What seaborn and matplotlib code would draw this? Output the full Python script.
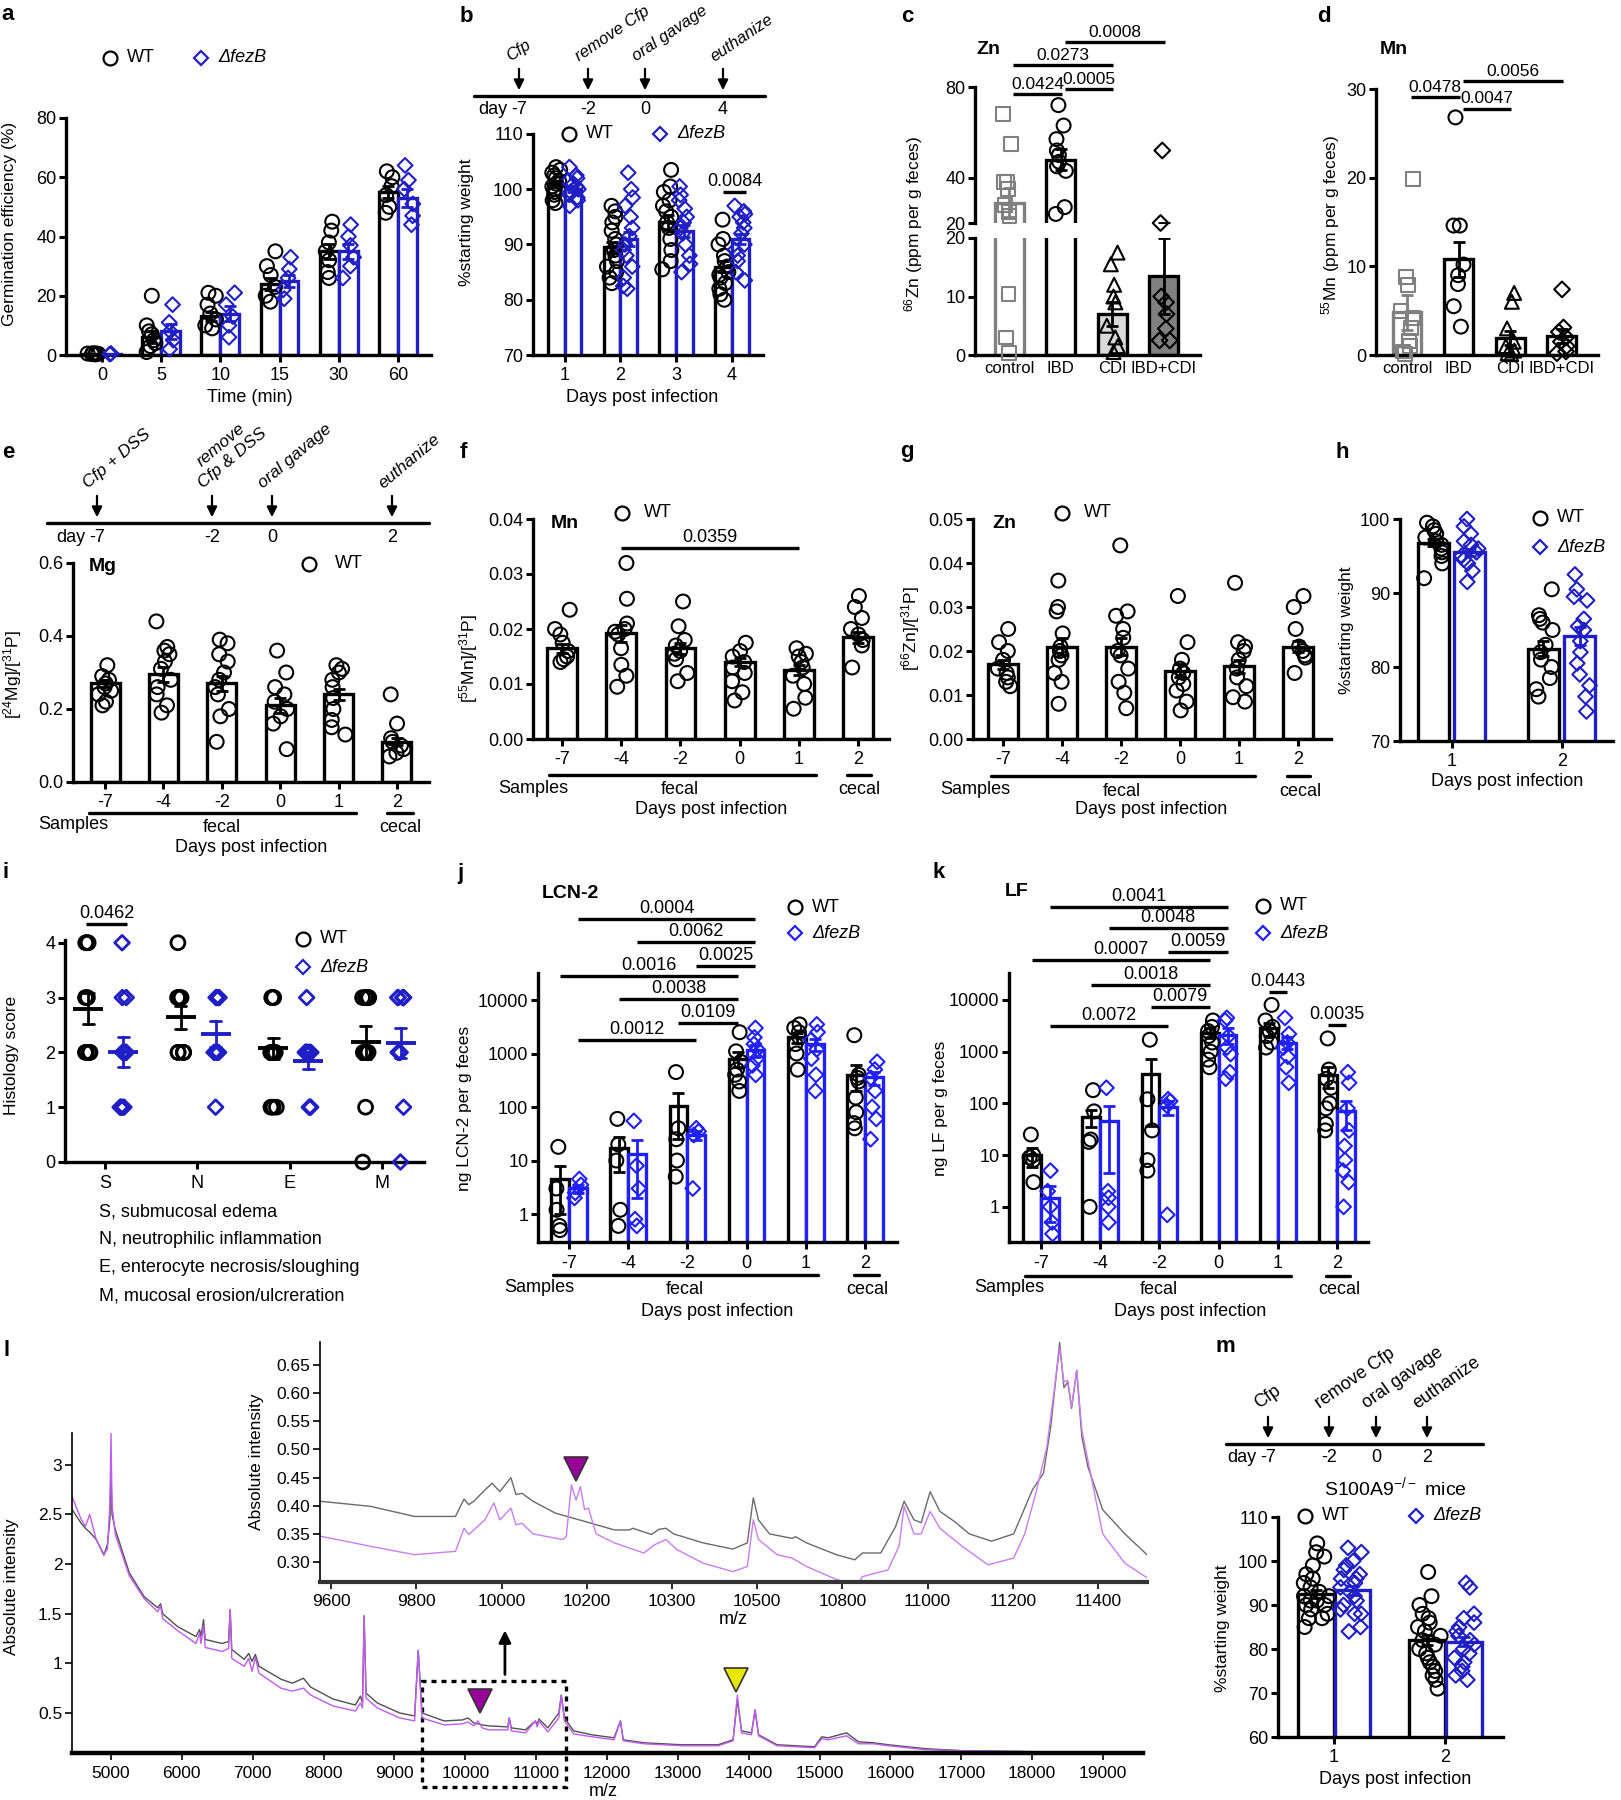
import numpy as np
import matplotlib
matplotlib.use("Agg")
import matplotlib.pyplot as plt
import seaborn as sns
from matplotlib.lines import Line2D
from matplotlib.patches import FancyArrowPatch, Rectangle

# ---------------- data ----------------
# a: germination
A_TIMES = ["0", "5", "10", "15", "30", "60"]
A_WT_MEAN = [0.3, 6, 13, 24, 35, 55]
A_WT_SEM = [0.2, 2.0, 1.5, 2.0, 2.5, 2.0]
A_FEZB_MEAN = [0.2, 8, 14, 25, 35, 53]
A_FEZB_SEM = [0.1, 2.5, 2.5, 2.0, 2.5, 3.0]
A_WT_PTS = [[0.5, 0.5, 0.3, 0.2, 0.4, 0.6], [20, 10, 8, 7, 5, 4, 3, 1], [21, 20, 17, 14, 12, 10, 9],
            [35, 30, 27, 23, 20, 18], [45, 42, 38, 35, 32, 28, 26], [62, 60, 57, 54, 50, 48]]
A_FEZB_PTS = [[0.5, 0.3], [17, 11, 8, 5, 2], [21, 17, 13, 10, 6], [33, 29, 26, 22, 19],
              [44, 40, 37, 33, 30, 26], [64, 59, 56, 51, 47, 44]]

# b: weight, Cfp model
B_DAYS = ["1", "2", "3", "4"]
B_WT_MEAN = [101, 89.5, 94, 86]
B_WT_SEM = [0.5, 1.0, 1.3, 1.0]
B_FEZB_MEAN = [100, 91, 92.5, 91]
B_FEZB_SEM = [0.5, 1.3, 1.1, 0.9]
B_WT_PTS = [[104, 103.5, 103, 102.5, 102, 101.5, 101, 100.5, 100, 99.5, 99, 98, 97.5],
            [97, 96, 95, 94, 92.5, 91, 90, 89, 88, 87, 86, 85, 84, 83],
            [103.5, 100.5, 99.5, 98, 97, 96, 95, 94, 93, 91, 89, 87, 85.5],
            [94.5, 91, 90, 88, 87, 86, 85, 84.5, 84, 83, 82, 81, 80]]
B_FEZB_PTS = [[104, 102.5, 102, 101.5, 101, 100.5, 100, 99.5, 99, 98.5, 98, 97],
              [103, 100, 98.5, 97, 95, 93, 91.5, 90, 89, 88, 86, 84, 82.5, 82],
              [100.5, 99, 98, 96.5, 95, 94, 93, 92, 90, 88, 86.5, 85],
              [97, 96, 95.5, 95, 94, 93, 92, 90, 89, 88, 87, 85, 83.5]]
B_TL_TEXT = ["Cfp", "remove Cfp", "oral gavage", "euthanize"]
B_TL_DAYS = ["-7", "-2", "0", "4"]

# c / d: human feces
C_GROUPS = ["control", "IBD", "CDI", "IBD+CDI"]
C_MEAN = [29, 48, 7, 13.5]
C_SEM = [6.5, 4.5, 2.0, 6.5]
C_PTS = [[68, 55, 38, 38, 35, 28, 25, 23, 10.5, 3, 0.3], [72, 63, 57, 52, 50, 47, 45, 43, 27, 24],
         [17.5, 15.5, 12, 10, 9, 5, 3, 1.5, 0.5], [52, 20, 10, 9, 7, 4.5, 2.5, 2.5]]
C_SIG_LABELS = ["0.0424", "0.0005", "0.0273", "0.0008"]
C_SIG_PAIRS = [(0, 1), (1, 2), (0, 2), (1, 3)]
C_SIG_Y = [76.9, 79.1, 89.7, 99.8]
D_MEAN = [4.8, 10.8, 1.9, 2.1]
D_SEM = [2.0, 2.0, 0.8, 0.8]
D_PTS = [[19.8, 8.8, 7.9, 5, 4.2, 3, 1.6, 1, 0.4, 0.1], [26.8, 14.6, 14.6, 10.2, 9, 8, 5.5, 3.2],
         [7, 6, 3, 1.5, 1, 0.5, 0.1, 0.2], [7.4, 3.1, 2.6, 2, 1.5, 1, 0.4, 0.2]]
D_SIG_LABELS = ["0.0478", "0.0047", "0.0056"]
D_SIG_PAIRS = [(0, 1), (1, 2), (1, 3)]
D_SIG_Y = [29.1, 27.8, 30.9]

# e / f / g: metal ratios (WT only)
E_DAYS = ["-7", "-4", "-2", "0", "1", "2"]
E_MEAN = [0.27, 0.295, 0.27, 0.21, 0.24, 0.11]
E_SEM = [0.01, 0.02, 0.02, 0.02, 0.015, 0.01]
E_PTS = [[0.32, 0.29, 0.28, 0.27, 0.26, 0.25, 0.24, 0.22, 0.21],
         [0.44, 0.37, 0.36, 0.35, 0.33, 0.31, 0.28, 0.26, 0.24, 0.21, 0.19],
         [0.39, 0.38, 0.35, 0.33, 0.30, 0.28, 0.26, 0.24, 0.20, 0.18, 0.11],
         [0.36, 0.30, 0.26, 0.24, 0.22, 0.20, 0.18, 0.16, 0.09],
         [0.32, 0.31, 0.30, 0.28, 0.26, 0.23, 0.20, 0.17, 0.15, 0.13],
         [0.24, 0.16, 0.12, 0.11, 0.10, 0.09, 0.08, 0.07]]
E_TL_TEXT = ["Cfp + DSS", "remove\nCfp & DSS", "oral gavage", "euthanize"]
E_TL_DAYS = ["-7", "-2", "0", "2"]
F_MEAN = [0.0165, 0.0192, 0.0165, 0.014, 0.0125, 0.0185]
F_SEM = [0.0008, 0.0015, 0.001, 0.0008, 0.0009, 0.001]
F_PTS = [[0.0235, 0.020, 0.019, 0.0175, 0.016, 0.015, 0.0145, 0.014],
         [0.032, 0.0255, 0.021, 0.020, 0.0195, 0.019, 0.0165, 0.0135, 0.0115, 0.0095],
         [0.025, 0.0205, 0.018, 0.017, 0.016, 0.0155, 0.0145, 0.012, 0.0105],
         [0.0175, 0.016, 0.015, 0.014, 0.013, 0.012, 0.0105, 0.0085, 0.007],
         [0.0165, 0.0155, 0.015, 0.014, 0.013, 0.0115, 0.010, 0.0075, 0.0055],
         [0.026, 0.024, 0.022, 0.020, 0.019, 0.018, 0.017, 0.013]]
G_MEAN = [0.017, 0.021, 0.021, 0.0155, 0.0165, 0.021]
G_SEM = [0.001, 0.002, 0.002, 0.0015, 0.0015, 0.0013]
G_PTS = [[0.025, 0.022, 0.020, 0.018, 0.016, 0.015, 0.014, 0.013, 0.012],
         [0.036, 0.030, 0.029, 0.024, 0.021, 0.020, 0.019, 0.018, 0.015, 0.013, 0.008],
         [0.044, 0.029, 0.028, 0.025, 0.023, 0.020, 0.019, 0.016, 0.013, 0.0105, 0.007],
         [0.0325, 0.022, 0.018, 0.016, 0.015, 0.014, 0.0125, 0.011, 0.0085, 0.0065],
         [0.0355, 0.022, 0.021, 0.020, 0.018, 0.016, 0.014, 0.012, 0.0095, 0.0085],
         [0.0325, 0.030, 0.025, 0.021, 0.020, 0.019, 0.0185, 0.015]]

# h: weight, DSS model
H_DAYS = ["1", "2"]
H_WT_MEAN = [96.8, 82.5]
H_WT_SEM = [0.5, 1.0]
H_FEZB_MEAN = [95.5, 84.2]
H_FEZB_SEM = [0.5, 1.2]
H_WT_PTS = [[99.5, 99, 98.5, 98, 97.5, 97, 96.5, 96, 95.5, 95, 94, 92],
            [90.5, 87, 86.5, 86, 85, 83, 82, 81, 80, 78.5, 77, 76]]
H_FEZB_PTS = [[100, 99, 98, 97, 96.5, 96, 95.5, 95, 94.5, 94, 93, 91.5],
              [92.5, 90.5, 89.5, 89, 86.5, 85.5, 85, 83.5, 82, 80.5, 79, 77.5, 76, 74]]

# i: histology
I_CATS = ["S", "N", "E", "M"]
I_WT_PTS = [[4, 4, 4, 3, 3, 2, 2, 2, 2, 2], [4, 3, 3, 2, 2, 2, 2, 3, 3, 2, 3],
            [3, 3, 3, 3, 2, 2, 2, 2, 2, 1, 1, 1, 2, 2], [3, 3, 3, 3, 3, 2, 2, 2, 2, 1, 0]]
I_FEZB_PTS = [[4, 3, 3, 2, 2, 2, 2, 2, 1, 1, 1, 1], [3, 3, 3, 3, 2, 2, 1, 2, 2],
              [3, 2, 2, 2, 2, 2, 2, 1, 1, 1, 2, 2, 2], [3, 3, 3, 3, 3, 2, 2, 2, 2, 1, 0, 2]]
I_NOTES = ["S, submucosal edema", "N, neutrophilic inflammation",
           "E, enterocyte necrosis/sloughing", "M, mucosal erosion/ulcreration"]

# j: LCN-2
J_WT_MEAN = [4.5, 17, 105, 800, 2000, 400]
J_WT_SEM = [3.5, 11, 80, 250, 400, 200]
J_FEZB_MEAN = [3, 13, 30, 1150, 1500, 360]
J_FEZB_SEM = [0.5, 11, 6, 300, 400, 100]
J_WT_PTS = [[18, 3, 1.2, 0.6, 0.5], [60, 20, 10, 1.2, 0.6], [450, 40, 25, 10, 5],
            [2500, 1100, 700, 500, 400, 300, 200], [3500, 3000, 2500, 2000, 1500, 1000, 500],
            [2200, 400, 350, 300, 150, 80, 50, 40]]
J_FEZB_PTS = [[4.5, 3.5, 2.5, 2], [55, 8, 3, 0.8, 0.6], [40, 35, 30, 3],
              [3000, 2000, 1500, 1200, 800, 600, 400], [3500, 2500, 1800, 1200, 800, 400, 200],
              [700, 500, 350, 200, 100, 60, 25]]
J_SIG_LABELS = ["0.0004", "0.0062", "0.0025", "0.0016", "0.0038", "0.0109", "0.0012"]
J_SIG_FROM = [(0, 1), (1, 1), (2, 1), (0, 0), (1, 0), (2, 0), (0, 1)]
J_SIG_TO = [(3, 1), (3, 1), (3, 1), (3, 0), (3, 0), (3, 0), (2, 1)]
J_SIG_LOGY = [5.51, 5.08, 4.64, 4.45, 4.02, 3.57, 3.25]

# k: LF
K_WT_MEAN = [10, 55, 370, 2300, 2800, 350]
K_WT_SEM = [4, 20, 350, 500, 800, 150]
K_FEZB_MEAN = [1.5, 45, 85, 2100, 1500, 70]
K_FEZB_SEM = [1.0, 45, 25, 700, 400, 40]
K_WT_PTS = [[25, 10, 9, 8, 3], [180, 70, 20, 18, 1], [1700, 120, 30, 8, 5],
            [4000, 3000, 2500, 2000, 1500, 1000, 700, 500], [8000, 4000, 3000, 2500, 2000, 1500, 1200],
            [1800, 450, 300, 200, 100, 80, 40, 30]]
K_FEZB_PTS = [[5, 2, 1, 0.5, 0.3], [200, 2, 1.5, 1, 0.5], [120, 110, 90, 0.7],
              [4500, 4000, 2000, 1200, 900, 400, 300], [4500, 2200, 1500, 1200, 800, 500, 250],
              [400, 250, 80, 30, 15, 8, 5, 3, 1]]
K_SIG_LABELS = ["0.0041", "0.0048", "0.0059", "0.0007", "0.0018", "0.0079", "0.0072", "0.0443", "0.0035"]
K_SIG_FROM = [(0, 1), (1, 1), (2, 1), (0, 0), (1, 0), (2, 0), (0, 1), (4, 0), (5, 0)]
K_SIG_TO = [(3, 1), (3, 1), (3, 1), (3, 0), (3, 0), (3, 0), (2, 1), (4, 1), (5, 1)]
K_SIG_LOGY = [5.80, 5.39, 4.93, 4.77, 4.29, 3.86, 3.50, 4.15, 3.52]

# l: MALDI spectra (main)
L_MZ = [4450, 4580, 4640, 4700, 4790, 4900, 4950, 4985, 5000, 5015,
        5060, 5260, 5470, 5660, 5700, 5730, 5940, 6200, 6250, 6270,
        6306, 6330, 6570, 6660, 6682, 6705, 6880, 6944, 6990, 7038,
        7090, 7400, 7560, 7716, 7820, 8135, 8450, 8520, 8550, 8573,
        8600, 8760, 9075, 9285, 9336, 9390, 9700, 9960, 10040, 10120,
        10180, 10240, 10330, 10600, 10620, 10650, 10850, 10990, 11015, 11040,
        11165, 11320, 11355, 11400, 11530, 11790, 12100, 12190, 12230, 12520,
        13050, 13570, 13780, 13840, 13900, 14040, 14090, 14140, 14400, 14930,
        15030, 15120, 15380, 15550, 15760, 15970, 16500, 17020, 18060, 19565]
L_GRAY = [2.55, 2.41, 2.36, 2.32, 2.25, 2.09, 2.2, 2.45, 2.95, 2.5,
          2.35, 1.91, 1.67, 1.56, 1.6, 1.5, 1.37, 1.27, 1.34, 1.27,
          1.44, 1.24, 1.2, 1.22, 1.54, 1.14, 1.04, 1.1, 1.02, 1.09,
          0.97, 0.84, 0.8, 0.85, 0.76, 0.64, 0.58, 0.67, 0.6, 1.48,
          0.7, 0.6, 0.5, 0.47, 1.13, 0.5, 0.42, 0.43, 0.45, 0.4,
          0.39, 0.38, 0.37, 0.36, 0.45, 0.35, 0.33, 0.42, 0.38, 0.44,
          0.35, 0.5, 0.68, 0.45, 0.32, 0.28, 0.25, 0.42, 0.23, 0.2,
          0.18, 0.18, 0.23, 0.63, 0.32, 0.3, 0.53, 0.28, 0.18, 0.16,
          0.26, 0.25, 0.3, 0.21, 0.2, 0.18, 0.14, 0.12, 0.11, 0.1]
L_PURPLE = [2.68, 2.45, 2.38, 2.5, 2.25, 2.1, 2.15, 2.6, 3.32, 2.6,
            2.3, 1.88, 1.65, 1.52, 1.58, 1.45, 1.33, 1.2, 1.3, 1.2,
            1.38, 1.16, 1.12, 1.15, 1.54, 1.05, 0.97, 1.05, 0.92, 1.06,
            0.9, 0.75, 0.72, 0.75, 0.68, 0.57, 0.52, 0.6, 0.55, 1.47,
            0.65, 0.55, 0.45, 0.42, 1.13, 0.45, 0.38, 0.39, 0.41, 0.37,
            0.42, 0.35, 0.33, 0.33, 0.45, 0.32, 0.3, 0.42, 0.36, 0.42,
            0.31, 0.45, 0.68, 0.42, 0.29, 0.26, 0.23, 0.42, 0.22, 0.19,
            0.17, 0.17, 0.22, 0.68, 0.3, 0.28, 0.53, 0.27, 0.17, 0.15,
            0.24, 0.23, 0.27, 0.19, 0.19, 0.17, 0.13, 0.12, 0.11, 0.1]
# l: inset (x in the inset's display scale)
LI_MZ_GRAY = [9574, 9692, 9796, 9892, 9912, 9923, 9935, 9961, 9978, 9996,
              10022, 10034, 10048, 10074, 10126, 10196, 10265, 10300, 10308, 10352,
              10369, 10386, 10404, 10473, 10543, 10577, 10591, 10603, 10629, 10682,
              10690, 10716, 10786, 10829, 10847, 10890, 10925, 10945, 10968, 10985,
              11006, 11029, 11063, 11098, 11150, 11202, 11246, 11272, 11289, 11310,
              11320, 11329, 11338, 11350, 11362, 11376, 11411, 11463, 11515]
LI_GRAY = [0.408, 0.399, 0.381, 0.381, 0.412, 0.402, 0.408, 0.428, 0.44, 0.425,
           0.45, 0.42, 0.422, 0.408, 0.387, 0.372, 0.357, 0.357, 0.36, 0.349,
           0.358, 0.36, 0.35, 0.334, 0.323, 0.334, 0.414, 0.375, 0.35, 0.342,
           0.345, 0.334, 0.313, 0.304, 0.316, 0.316, 0.363, 0.408, 0.375, 0.37,
           0.425, 0.39, 0.372, 0.35, 0.337, 0.35, 0.428, 0.458, 0.54, 0.69,
           0.61, 0.62, 0.573, 0.64, 0.523, 0.47, 0.393, 0.35, 0.313]
LI_MZ_PURPLE = [9574, 9692, 9796, 9892, 9912, 9923, 9935, 9961, 9982, 9996,
                10004, 10022, 10034, 10048, 10074, 10143, 10152, 10164, 10175, 10185,
                10195, 10204, 10222, 10265, 10334, 10360, 10386, 10412, 10473, 10543,
                10577, 10591, 10603, 10647, 10682, 10716, 10786, 10812, 10838, 10847,
                10907, 10933, 10945, 10968, 10985, 11006, 11029, 11081, 11142, 11202,
                11228, 11254, 11280, 11298, 11310, 11320, 11329, 11338, 11350, 11362,
                11376, 11411, 11463, 11515]
LI_PURPLE = [0.346, 0.328, 0.313, 0.319, 0.36, 0.349, 0.357, 0.375, 0.405, 0.375,
             0.381, 0.396, 0.366, 0.369, 0.35, 0.34, 0.345, 0.437, 0.41, 0.434,
             0.393, 0.396, 0.35, 0.334, 0.316, 0.331, 0.34, 0.322, 0.298, 0.283,
             0.292, 0.375, 0.34, 0.313, 0.307, 0.292, 0.269, 0.263, 0.263, 0.274,
             0.286, 0.328, 0.399, 0.35, 0.35, 0.39, 0.36, 0.328, 0.295, 0.307,
             0.35, 0.422, 0.505, 0.61, 0.68, 0.62, 0.623, 0.576, 0.641, 0.535,
             0.482, 0.35, 0.298, 0.272]
LI_TICKS = [9600, 9800, 10000, 10200, 10400, 10600, 10800, 11000, 11200, 11400]
LI_TICK_LABELS = ["9600", "9800", "10000", "10200", "10300", "10500", "10800", "11000", "11200", "11400"]

# m: S100A9-/- mice
M_DAYS = ["1", "2"]
M_WT_MEAN = [92.5, 82]
M_WT_SEM = [0.9, 1.2]
M_FEZB_MEAN = [93.3, 81.7]
M_FEZB_SEM = [1.0, 1.1]
M_WT_PTS = [[104, 102, 101, 99, 97, 96, 95, 94, 93, 92, 92, 91, 91, 90, 90, 89, 88, 87, 87, 85],
            [97.5, 92, 90, 88, 87, 86, 85, 84, 83, 82, 81, 80, 79, 78, 77, 76, 75, 74, 73, 71]]
M_FEZB_PTS = [[103, 102, 100, 99, 98, 97, 96, 96, 95, 94, 93, 92, 91, 90, 89, 88, 88, 85, 84],
              [95, 94, 88, 87, 86, 85, 84, 83, 82, 81, 80, 79, 78, 77, 76, 75, 74, 73]]
M_TL_DAYS = ["-7", "-2", "0", "2"]

# ---------------- style ----------------
np.random.seed(7)
W, H = 1621, 1800
sns.set_theme(style="ticks")
NARROW = ["Liberation Sans Narrow", "Liberation Sans", "DejaVu Sans"]
WIDE = ["Liberation Sans", "DejaVu Sans"]
plt.rcParams.update({
    "font.family": NARROW, "axes.linewidth": 2.4, "axes.edgecolor": "black",
    "xtick.color": "black", "ytick.color": "black", "text.color": "black",
    "xtick.major.width": 2.2, "ytick.major.width": 2.2,
    "xtick.major.size": 5, "ytick.major.size": 5,
    "xtick.labelsize": 13, "ytick.labelsize": 13,
    "xtick.major.pad": 4, "ytick.major.pad": 2, "mathtext.default": "regular",
})
BLUE = "#1f1fc6"
BLUE2 = "#2020ff"

fig = plt.figure(figsize=(W / 100, H / 100), dpi=100)


def P(x, y):
    return (x / W, 1 - y / H)


def box(x0, y0, x1, y1):
    ax = fig.add_axes([x0 / W, 1 - y1 / H, (x1 - x0) / W, (y1 - y0) / H])
    ax.patch.set_alpha(0)
    sns.despine(ax=ax)
    return ax


def ftext(x, y, s, **kw):
    kw.setdefault("ha", "center")
    kw.setdefault("va", "center")
    kw.setdefault("fontsize", 13)
    fig.text(*P(x, y), s, **kw)


def ylab(x, y, s, fs=12.5):
    ftext(x, y, s, rotation=90, family=WIDE, fontsize=fs)


def letter(x, y, s):
    ftext(x, y, s, fontsize=16, fontweight="bold", family=WIDE)


def fline(x0, x1, y, lw=2.4):
    fig.add_artist(Line2D([x0 / W, x1 / W], [1 - y / H] * 2, color="black", lw=lw))


def fmark(x, y, marker, color, ms=10):
    fig.add_artist(Line2D([x / W], [1 - y / H], marker=marker, ms=ms, mew=1.6,
                          mfc="none", mec=color, ls="none"))


def legend2(x, y, dx, dy, fam=NARROW, blue=BLUE):
    # WT and ΔfezB entries; second entry shifted by (dx, dy)
    fmark(x, y, "o", "black", 10)
    ftext(x + 17, y, "WT", ha="left", family=fam)
    fmark(x + dx, y + dy, "D", blue, 7.5)
    ftext(x + dx + 17, y + dy, "ΔfezB", ha="left", fontstyle="italic", family=fam)


def bar1(ax, x, mean, sem, pts, edge, fill="white", marker="o", mcol=None,
         width=0.3, jit=0.08, ms=None, lw=2.4):
    mcol = edge if mcol is None else mcol
    ms = (7.5 if marker == "D" else 10) if ms is None else ms
    sns.barplot(x=[x], y=[mean], native_scale=True, orient="x", width=width, color=fill,
                saturation=1, edgecolor=edge, linewidth=lw, errorbar=None, ax=ax, zorder=1)
    if len(pts):
        sns.stripplot(x=np.full(len(pts), float(x)), y=pts, native_scale=True, orient="x",
                      jitter=jit, marker=marker, size=ms, color=mcol, facecolor="none",
                      edgecolor=mcol, linewidth=1.5, ax=ax, zorder=3, clip_on=False)
    lo = min(sem, mean * 0.9) if ax.get_yscale() == "log" else sem
    ax.errorbar([x], [mean], yerr=[[lo], [sem]], fmt="none", ecolor=edge, elinewidth=2,
                capsize=4, capthick=2, zorder=4)


def series(ax, means, sems, pts, off, **kw):
    for i, (m, s, p) in enumerate(zip(means, sems, pts)):
        bar1(ax, i + off, m, s, p, **kw)


def cats(ax, labels, xlim, fs=13):
    ax.set_xticks(range(len(labels)))
    ax.set_xticklabels(labels, fontsize=fs)
    ax.set_xlim(*xlim)
    ax.set_xlabel("")
    ax.set_ylabel("")


def sig(ax, x0, x1, y, label, fs=13):
    ax.plot([x0, x1], [y, y], color="black", lw=2.4, clip_on=False, solid_capstyle="butt")
    ax.annotate(label, ((x0 + x1) / 2, y), xytext=(0, 1.5), textcoords="offset points",
                ha="center", va="bottom", fontsize=fs, annotation_clip=False)


def timeline(x0, x1, y, xs, texts, days, rot, style, fam, fs=13, tfs=13):
    fline(x0, x1, y)
    for xa, t, d in zip(xs, texts, days):
        fig.add_artist(FancyArrowPatch(P(xa, y - 30), P(xa, y - 3), transform=fig.transFigure,
                                       arrowstyle="-|>", mutation_scale=15, lw=1.6, color="black"))
        fig.text(*P(xa - 7, y - 32), t, rotation=rot, rotation_mode="anchor", ha="left",
                 va="bottom", fontsize=tfs, fontstyle=style, family=fam, multialignment="center")
        ftext(xa, y + 14, d, family=fam, fontsize=fs)
    ftext(xs[0] - 12, y + 14, "day", ha="right", family=fam, fontsize=fs)


# ---------------- a ----------------
ax = box(66, 118, 431, 355)
series(ax, A_WT_MEAN, A_WT_SEM, A_WT_PTS, -0.16, edge="black", width=0.32, jit=0.1)
series(ax, A_FEZB_MEAN, A_FEZB_SEM, A_FEZB_PTS, 0.16, edge=BLUE, marker="D", width=0.32, jit=0.1)
cats(ax, A_TIMES, (-0.61, 5.56))
ax.set_ylim(0, 80)
ax.set_yticks([0, 20, 40, 60, 80])
letter(8, 14, "a")
legend2(110, 58, 91, 0)
ylab(10, 224, "Germination efficiency (%)")
ftext(250, 397, "Time (min)")

# ---------------- b ----------------
ax = box(533, 134, 763, 355)
series(ax, B_WT_MEAN, B_WT_SEM, B_WT_PTS, -0.15, edge="black", width=0.3, jit=0.1)
series(ax, B_FEZB_MEAN, B_FEZB_SEM, B_FEZB_PTS, 0.15, edge=BLUE, marker="D", width=0.3, jit=0.1)
cats(ax, B_DAYS, (-0.57, 3.56))
ax.set_ylim(70, 110)
ax.set_yticks([70, 80, 90, 100, 110])
sig(ax, 2.85, 3.25, 99.5, "0.0084")
letter(466, 16, "b")
legend2(569, 134, 91, 0)
ylab(466, 222, "%starting weight")
ftext(642, 397, "Days post infection")
timeline(474, 765, 96, [519, 588, 645, 723], B_TL_TEXT, B_TL_DAYS, 34, "italic", NARROW, tfs=12)

# ---------------- c (broken axis) ----------------
C_FILL = ["white", "white", "#d9d9d9", "#808080"]
C_EDGE = ["#808080", "black", "black", "black"]
C_MARK = ["s", "o", "^", "D"]
top = box(975, 87, 1200, 223)
bot = box(975, 238, 1200, 355)
for axc, keep in ((top, lambda v: v >= 20), (bot, lambda v: v < 20)):
    for k in range(4):
        bar1(axc, k, C_MEAN[k], C_SEM[k], [v for v in C_PTS[k] if keep(v)], edge=C_EDGE[k],
             fill=C_FILL[k], marker=C_MARK[k], width=0.56, jit=0.12,
             ms=8 if C_MARK[k] == "D" else 10)
    cats(axc, C_GROUPS, (-0.66, 3.7), fs=12)
top.set_ylim(20, 80)
top.set_yticks([20, 40, 80])
sns.despine(ax=top, bottom=True)
top.tick_params(axis="x", bottom=False, labelbottom=False)
bot.set_ylim(0, 20)
bot.set_yticks([0, 10, 20])
bot.tick_params(axis="x", length=0)
for lab, (a_, b_), yv in zip(C_SIG_LABELS, C_SIG_PAIRS, C_SIG_Y):
    sig(top, a_ + 0.08, b_ + 0.02, yv, lab, fs=12.5)
letter(907, 16, "c")
ftext(988, 50, "Zn", fontsize=14, fontweight="bold")
ylab(914, 224, r"$^{66}$Zn (ppm per g feces)")

# ---------------- d ----------------
ax = box(1376, 89, 1598, 355)
for k in range(4):
    bar1(ax, k, D_MEAN[k], D_SEM[k], D_PTS[k], edge=C_EDGE[k], fill="white", marker=C_MARK[k],
         width=0.56, jit=0.12, ms=8 if C_MARK[k] == "D" else 10)
cats(ax, C_GROUPS, (-0.6, 3.7), fs=12)
ax.set_ylim(0, 30)
ax.set_yticks([0, 10, 20, 30])
ax.tick_params(axis="x", length=0)
for lab, (a_, b_), yv in zip(D_SIG_LABELS, D_SIG_PAIRS, D_SIG_Y):
    sig(ax, a_ + 0.08, b_ + 0.02, yv, lab, fs=12.5)
letter(1324, 17, "d")
ftext(1394, 50, "Mn", fontsize=14, fontweight="bold")
ylab(1331, 225, r"$^{55}$Mn (ppm per g feces)")


# ---------------- e / f / g ----------------
def metal(ax, means, sems, pts, xlim, ylim, yticks, fmt):
    series(ax, means, sems, pts, 0.0, edge="black", width=0.5, jit=0.13)
    cats(ax, E_DAYS, xlim)
    ax.set_ylim(*ylim)
    ax.set_yticks(yticks)
    ax.set_yticklabels([fmt % v for v in yticks])


ax = box(73, 563, 429, 782)
metal(ax, E_MEAN, E_SEM, E_PTS, (-0.55, 5.55), (0, 0.6), [0, 0.2, 0.4, 0.6], "%.1f")
letter(8, 452, "e")
ftext(103, 566, "Mg", fontsize=14, fontweight="bold")
fmark(309, 564, "o", "black")
ftext(335, 564, "WT", ha="left")
fline(89, 356, 813)
fline(387, 413, 813)
ftext(73, 825, "Samples")
ftext(222, 827, "fecal")
ftext(400, 827, "cecal")
ftext(251, 847, "Days post infection")
ylab(13, 675, r"[$^{24}$Mg]/[$^{31}$P]")
timeline(47, 429, 523, [97, 212, 272, 392], E_TL_TEXT, E_TL_DAYS, 40, "italic", NARROW, tfs=12.5)

ax = box(533, 519, 889, 739)
metal(ax, F_MEAN, F_SEM, F_PTS, (-0.49, 5.52), (0, 0.04), [0, 0.01, 0.02, 0.03, 0.04], "%.2f")
sig(ax, 1, 4, 0.0347, "0.0359")
letter(463, 453, "f")
ftext(565, 524, "Mn", fontsize=14, fontweight="bold")
fmark(622, 513, "o", "black")
ftext(644, 513, "WT", ha="left")
fline(549, 816, 775)
fline(847, 871, 775)
ftext(533, 788, "Samples")
ftext(680, 790, "fecal")
ftext(859, 790, "cecal")
ftext(711, 810, "Days post infection")
ylab(469, 659, r"[$^{55}$Mn]/[$^{31}$P]")

ax = box(973, 519, 1331, 739)
metal(ax, G_MEAN, G_SEM, G_PTS, (-0.51, 5.56), (0, 0.05), [0, 0.01, 0.02, 0.03, 0.04, 0.05], "%.2f")
letter(907, 452, "g")
ftext(1004, 524, "Zn", fontsize=14, fontweight="bold")
fmark(1062, 513, "o", "black")
ftext(1084, 513, "WT", ha="left")
fline(991, 1255, 776)
fline(1287, 1310, 776)
ftext(975, 789, "Samples")
ftext(1122, 791, "fecal")
ftext(1300, 791, "cecal")
ftext(1151, 810, "Days post infection")
ylab(911, 628, r"[$^{66}$Zn]/[$^{31}$P]")

# ---------------- h ----------------
ax = box(1400, 519, 1613, 741)
series(ax, H_WT_MEAN, H_WT_SEM, H_WT_PTS, -0.17, edge="black", width=0.28, jit=0.09)
series(ax, H_FEZB_MEAN, H_FEZB_SEM, H_FEZB_PTS, 0.16, edge=BLUE, marker="D", width=0.28, jit=0.09)
cats(ax, H_DAYS, (-0.47, 1.46))
ax.set_ylim(70, 100)
ax.set_yticks([70, 80, 90, 100])
letter(1342, 453, "h")
legend2(1540, 518, 0, 29)
ftext(1507, 782, "Days post infection")
ylab(1346, 630, "%starting weight")

# ---------------- i ----------------
ax = box(65, 940, 424, 1162)
for pts_list, off, col, mk, ms in ((I_WT_PTS, -0.18, "black", "o", 10),
                                   (I_FEZB_PTS, 0.2, BLUE, "D", 7.5)):
    xs = np.concatenate([[k + off] * len(p) for k, p in enumerate(pts_list)])
    ys = np.concatenate(pts_list).astype(float)
    sns.stripplot(x=xs, y=ys, native_scale=True, orient="x", jitter=0.035, marker=mk, size=ms,
                  color=col, facecolor="none", edgecolor=col, linewidth=2.0, ax=ax,
                  zorder=3, clip_on=False)
    sns.pointplot(x=xs, y=ys, native_scale=True, orient="x", errorbar="se", color=col,
                  marker="_", markersize=22, markeredgewidth=2.8, linestyle="none",
                  capsize=0.12, err_kws={"linewidth": 2.0}, ax=ax)
cats(ax, I_CATS, (-0.43, 3.45))
ax.set_ylim(0, 4.05)
ax.set_yticks([0, 1, 2, 3, 4])
sig(ax, -0.2, 0.24, 4.34, "0.0462")
letter(6, 873, "i")
legend2(303, 939, 0, 28)
for k, note in enumerate(I_NOTES):
    ftext(99, 1212 + 28 * k, note, ha="left")
ylab(12, 1055, "Histology score")


# ---------------- j / k ----------------
def logbars(ax, wt_m, wt_s, wt_p, kz_m, kz_s, kz_p, xlim, ylog):
    ax.set_yscale("log")
    series(ax, wt_m, wt_s, wt_p, -0.15, edge="black", width=0.3, jit=0.06)
    series(ax, kz_m, kz_s, kz_p, 0.15, edge=BLUE2, marker="D", width=0.3, jit=0.06)
    cats(ax, E_DAYS, xlim)
    ax.set_ylim(10 ** ylog[0], 10 ** ylog[1])
    ax.set_yticks([1, 10, 100, 1000, 10000])
    ax.set_yticklabels(["1", "10", "100", "1000", "10000"])
    ax.minorticks_off()


OFFS = (-0.15, 0.15)
ax = box(538, 973, 897, 1242)
logbars(ax, J_WT_MEAN, J_WT_SEM, J_WT_PTS, J_FEZB_MEAN, J_FEZB_SEM, J_FEZB_PTS,
        (-0.52, 5.54), (-0.523, 4.505))
for lab, f, t, yl in zip(J_SIG_LABELS, J_SIG_FROM, J_SIG_TO, J_SIG_LOGY):
    sig(ax, f[0] + OFFS[f[1]], t[0] + OFFS[t[1]], 10 ** yl, lab)
letter(460, 874, "j")
ftext(570, 893, "LCN-2", fontsize=14, fontweight="bold")
legend2(795, 907, 0, 26, blue=BLUE2)
fline(553, 818, 1275)
fline(854, 879, 1275)
ftext(539, 1288, "Samples")
ftext(685, 1290, "fecal")
ftext(867, 1290, "cecal")
ftext(717, 1312, "Days post infection")
ylab(465, 1108, "ng LCN-2 per g feces")

ax = box(1009, 973, 1368, 1242)
logbars(ax, K_WT_MEAN, K_WT_SEM, K_WT_PTS, K_FEZB_MEAN, K_FEZB_SEM, K_FEZB_PTS,
        (-0.54, 5.52), (-0.68, 4.52))
for lab, f, t, yl in zip(K_SIG_LABELS, K_SIG_FROM, K_SIG_TO, K_SIG_LOGY):
    sig(ax, f[0] + OFFS[f[1]], t[0] + OFFS[t[1]], 10 ** yl, lab)
letter(939, 873, "k")
ftext(1017, 892, "LF", fontsize=14, fontweight="bold")
legend2(1263, 906, 0, 27, blue=BLUE2)
fline(1025, 1291, 1276)
fline(1326, 1350, 1276)
ftext(1009, 1288, "Samples")
ftext(1159, 1290, "fecal")
ftext(1339, 1290, "cecal")
ftext(1190, 1312, "Days post infection")
ylab(941, 1108, "ng LF per g feces")

# ---------------- l ----------------
axl = box(72, 1433, 1143, 1753)
sns.lineplot(x=L_MZ, y=L_GRAY, color="#505050", lw=1.0, estimator=None, ax=axl)
sns.lineplot(x=L_MZ, y=L_PURPLE, color="#c05af0", lw=1.0, estimator=None, ax=axl)
axl.set_xlim(4450, 19565)
axl.set_ylim(0.097, 3.32)
axl.set_xticks(range(5000, 19001, 1000))
axl.set_yticks([0.5, 1, 1.5, 2, 2.5, 3])
axl.set_yticklabels(["0.5", "1", "1.5", "2", "2.5", "3"])
axl.tick_params(labelsize=12.5, width=1.2)
axl.spines["left"].set_linewidth(1.2)
axl.spines["bottom"].set_linewidth(3.2)
axl.add_patch(Rectangle((9389, -0.246), 2032, 1.066, fill=False, ls=(0, (1.5, 1.5)), lw=2.4,
                        ec="black", clip_on=False))
axl.annotate("", xy=(10560, 1.36), xytext=(10560, 0.86),
             arrowprops=dict(arrowstyle="-|>", lw=2, color="black", mutation_scale=18))
axl.plot([10207], [0.625], marker="v", ms=17, mfc="#990099", mec="#333333", mew=1.2, ls="none")
axl.plot([13820], [0.835], marker="v", ms=17, mfc="#e6e600", mec="#333333", mew=1.2, ls="none")
axl.set_xlabel("")
axl.set_ylabel("")

axi = box(320, 1342, 1147, 1582)
sns.lineplot(x=LI_MZ_GRAY, y=LI_GRAY, color="#6a6a6a", lw=1.0, estimator=None, ax=axi)
sns.lineplot(x=LI_MZ_PURPLE, y=LI_PURPLE, color="#cc7cf2", lw=1.0, estimator=None, ax=axi)
axi.set_xlim(9574, 11515)
axi.set_ylim(0.2645, 0.691)
axi.set_xticks(LI_TICKS)
axi.set_xticklabels(LI_TICK_LABELS)
axi.set_yticks([0.30, 0.35, 0.40, 0.45, 0.50, 0.55, 0.60, 0.65])
axi.set_yticklabels(["%.2f" % v for v in [0.30, 0.35, 0.40, 0.45, 0.50, 0.55, 0.60, 0.65]])
axi.tick_params(labelsize=12.5, width=1.2)
axi.spines["left"].set_linewidth(1.2)
axi.spines["bottom"].set_linewidth(3.0)
axi.spines["bottom"].set_color("#333333")
axi.plot([10175], [0.466], marker="v", ms=17, mfc="#990099", mec="#333333", mew=1.2, ls="none")
axi.set_xlabel("")
axi.set_ylabel("")
letter(7, 1350, "l")
ylab(12, 1587, "Absolute intensity")
ylab(256, 1462, "Absolute intensity")
ftext(603, 1792, "m/z")
ftext(733, 1620, "m/z")

# ---------------- m ----------------
ax = box(1278, 1517, 1503, 1737)
series(ax, M_WT_MEAN, M_WT_SEM, M_WT_PTS, -0.16, edge="black", width=0.32, jit=0.12)
series(ax, M_FEZB_MEAN, M_FEZB_SEM, M_FEZB_PTS, 0.17, edge=BLUE, marker="D", width=0.32, jit=0.12)
cats(ax, M_DAYS, (-0.5, 1.52))
ax.set_ylim(60, 110)
ax.set_yticks([60, 70, 80, 90, 100, 110])
for t in ax.get_xticklabels() + ax.get_yticklabels():
    t.set_fontfamily(WIDE)
letter(1225, 1347, "m")
legend2(1305, 1516, 111, 0, fam=WIDE)
ftext(1395, 1487, r"S100A9$^{-/-}$ mice", family=WIDE, fontsize=14)
ftext(1395, 1779, "Days post infection", family=WIDE)
ylab(1223, 1628, "%starting weight")
timeline(1226, 1483, 1444, [1268, 1329, 1376, 1427], B_TL_TEXT, M_TL_DAYS, 35, "normal", WIDE)

fig.savefig("out.png", dpi=100, facecolor="white")
